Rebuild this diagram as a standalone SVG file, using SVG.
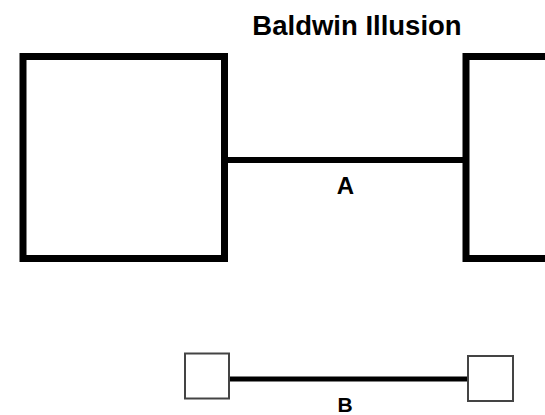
<svg xmlns="http://www.w3.org/2000/svg" width="545" height="415" viewBox="0 0 545 415">
<style>
.big{fill:#fff;stroke:#000;stroke-width:7}
.small{fill:#fff;stroke:#444;stroke-width:2}
.lbl{font-family:"Liberation Sans",Arial,sans-serif;font-weight:bold;fill:#000;text-anchor:middle}
</style>
<rect width="545" height="415" fill="#fff"/>
<text class="lbl" x="357" y="35" font-size="27.5">Baldwin Illusion</text>
<g id="connectors">
<line x1="224" y1="160" x2="466" y2="160" stroke="#000" stroke-width="6"/>
<line x1="229" y1="379" x2="467" y2="379" stroke="#000" stroke-width="5"/>
</g>
<g id="bigLeft"><rect class="big" x="23" y="56.5" width="201.5" height="202"/></g>
<g id="bigRight"><rect class="big" x="466" y="56.5" width="201.5" height="202"/></g>
<g id="labelA"><text class="lbl" x="345.5" y="194" font-size="24">A</text></g>
<g id="smallLeft"><rect class="small" x="185" y="353.5" width="44" height="45"/></g>
<g id="smallRight"><rect class="small" x="468" y="356" width="45" height="45"/></g>
<g id="labelB"><text class="lbl" x="345" y="412" font-size="21">B</text></g>
</svg>
